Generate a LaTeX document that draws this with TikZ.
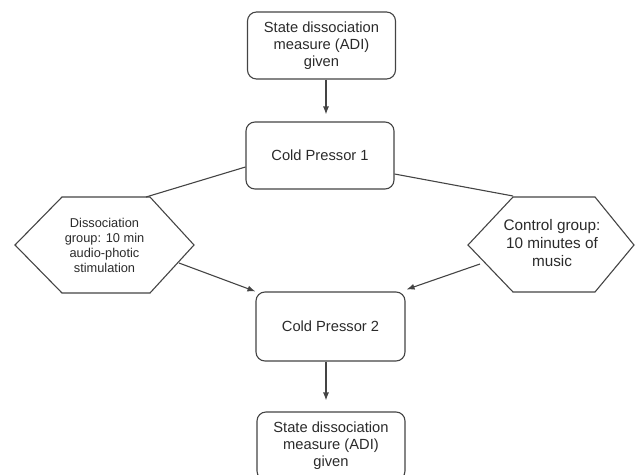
\documentclass[tikz,border=0pt]{standalone}
\usepackage{fontspec}
\setmainfont{Liberation Sans}
\usetikzlibrary{arrows.meta}
\definecolor{ln}{HTML}{444444}
\definecolor{tx}{HTML}{2A2A2A}
\begin{document}
\begin{tikzpicture}[x=1pt,y=-1pt,
  rbox/.style={draw=ln,line width=1.1pt,rounded corners=9pt,minimum width=148pt,minimum height=67pt,inner sep=0pt,align=center,text=tx,font=\fontsize{14.7}{17}\selectfont},
  hexline/.style={draw=ln,line width=1.1pt,line join=miter},
  conn/.style={draw=ln,line width=1.1pt},
  arr/.style={conn,-{Latex[length=8pt,width=6pt]}}]
\useasboundingbox (0,0) rectangle (640,474);
\node[rbox] (top) at (321.5,45.5) {State dissociation\\measure (ADI)\\given};
\node[rbox] (cp1) at (320,155.5) {Cold Pressor 1};
\node[rbox,minimum width=149pt,minimum height=69pt] (cp2) at (330.5,326.5) {Cold Pressor 2};
\begin{scope}
\clip (0,0) rectangle (640,474);
\node[rbox,minimum height=68pt] (bot) at (331,446) {State dissociation\\measure (ADI)\\given};
\end{scope}
% left hexagon
\draw[hexline] (15,245) -- (62,197) -- (150,197) -- (194,245) -- (150,293) -- (62,293) -- cycle;
\node[align=center,text=tx,font=\fontsize{12.8}{15}\selectfont] (lh) at (104.5,245.5) {Dissociation\\group: 10 min\\audio-photic\\stimulation};
\coordinate (lhA) at (146,197);
\coordinate (lhB) at (179,263);
% right hexagon
\draw[hexline] (468,245) -- (513,197) -- (595,197) -- (634,245) -- (595,292) -- (513,292) -- cycle;
\node[align=center,text=tx,font=\fontsize{15.3}{18}\selectfont] (rh) at (552,243) {Control group:\\10 minutes of\\music};
\coordinate (rhA) at (513,196);
\coordinate (rhB) at (480,264);
% connectors
\draw[arr,shorten >=7pt] ([xshift=4.5pt]top.south) -- ([xshift=6pt]cp1.north);
\draw[conn] ([yshift=-11.5pt]cp1.west) -- (lhA);
\draw[conn] ([yshift=-18.5pt]cp1.east) -- (rhA);
\draw[arr] (lhB) -- (cp2.north west);
\draw[arr] (rhB) -- ([xshift=1pt,yshift=2pt]cp2.north east);
\draw[arr,shorten >=11pt] ([xshift=-4.5pt]cp2.south) -- ([xshift=-5pt]bot.north);
\end{tikzpicture}
\end{document}
